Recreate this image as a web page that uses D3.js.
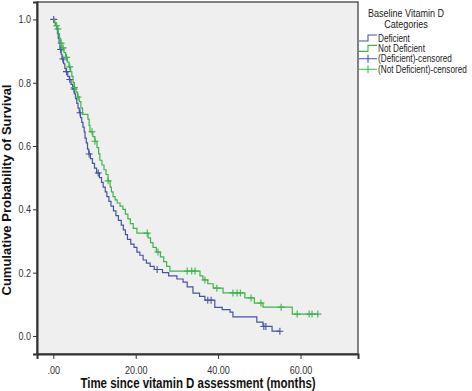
<!DOCTYPE html>
<html>
<head>
<meta charset="utf-8">
<script src="https://cdn.jsdelivr.net/npm/d3@7"></script>
<style>
  body { margin: 0; background: #fff; }
  svg text { font-family: "Liberation Sans", Arial, sans-serif; }
</style>
</head>
<body>
<svg id="chart" width="472" height="391"></svg>
<script>
// Kaplan-Meier steps: [time (months), survival after the event]
const deficientSteps = [
  [0.3, 0.99], [0.5, 0.98], [0.8, 0.97], [1.0, 0.955], [1.2, 0.94], [1.4, 0.925],
  [1.6, 0.905], [1.9, 0.89], [2.1, 0.875], [2.5, 0.86], [2.8, 0.845], [3.1, 0.835],
  [3.5, 0.82], [3.9, 0.81], [4.3, 0.795], [4.7, 0.78], [5.1, 0.765], [5.4, 0.75],
  [5.7, 0.735], [6.0, 0.72], [6.3, 0.705], [6.6, 0.69], [6.9, 0.675], [7.2, 0.66],
  [7.5, 0.645], [7.7, 0.625], [8.0, 0.61], [8.3, 0.59], [8.6, 0.575], [9.0, 0.56],
  [9.5, 0.545], [10.0, 0.53], [10.5, 0.515], [11.2, 0.50], [11.7, 0.485], [12.1, 0.47],
  [12.6, 0.455], [13.0, 0.44], [13.5, 0.425], [14.0, 0.41], [14.6, 0.395], [15.2, 0.38],
  [15.8, 0.365], [16.5, 0.35], [17.0, 0.335], [17.5, 0.32], [18.0, 0.305], [18.8, 0.29],
  [19.6, 0.28], [20.3, 0.265], [21.0, 0.255], [21.8, 0.24], [22.6, 0.23], [23.5, 0.22],
  [24.5, 0.21], [26.5, 0.20], [28.0, 0.19], [30.0, 0.18], [31.5, 0.17], [32.5, 0.155],
  [33.9, 0.135], [35.5, 0.125], [36.8, 0.113], [39.2, 0.09], [41.0, 0.083], [42.9, 0.075],
  [43.6, 0.06], [49.4, 0.044], [50.9, 0.03], [53.1, 0.015]
];
const deficientCensored = [0.1, 1.8, 2.3, 3.2, 4.0, 5.0, 6.5, 8.7, 10.9, 25.2, 37.5, 38.3, 51.1, 51.6, 55.0];

const notDeficientSteps = [
  [0.3, 0.99], [0.6, 0.98], [0.9, 0.97], [1.2, 0.955], [1.5, 0.94], [1.8, 0.925],
  [2.1, 0.91], [2.6, 0.895], [3.0, 0.88], [3.4, 0.865], [3.8, 0.85], [4.2, 0.835],
  [4.5, 0.82], [4.8, 0.80], [5.1, 0.785], [5.5, 0.77], [5.9, 0.755], [6.3, 0.74],
  [6.7, 0.72], [7.1, 0.70], [8.4, 0.685], [8.7, 0.665], [8.9, 0.645], [9.6, 0.63],
  [10.1, 0.615], [10.6, 0.595], [11.0, 0.575], [11.3, 0.555], [11.8, 0.54], [12.3, 0.525],
  [12.8, 0.51], [13.3, 0.49], [13.8, 0.47], [14.1, 0.455], [14.5, 0.44], [15.0, 0.43],
  [15.5, 0.42], [16.2, 0.41], [16.9, 0.40], [17.5, 0.385], [18.1, 0.37], [18.7, 0.355],
  [19.4, 0.34], [20.3, 0.325], [23.0, 0.31], [23.6, 0.295], [24.2, 0.28], [25.0, 0.265],
  [26.0, 0.25], [26.8, 0.235], [27.5, 0.22], [28.3, 0.205], [35.6, 0.19], [36.3, 0.177],
  [37.5, 0.165], [38.8, 0.151], [41.2, 0.136], [46.5, 0.12], [48.8, 0.104], [50.9, 0.091],
  [58.0, 0.069]
];
const notDeficientCensored = [0.8, 1.1, 1.9, 2.4, 3.2, 4.0, 5.1, 6.0, 9.4, 10.1, 13.3, 22.8, 25.4,
  32.5, 33.6, 34.4, 36.8, 39.7, 43.6, 44.6, 45.4, 48.0, 50.4, 55.3, 59.2, 62.1, 62.8, 64.2];

const xTicks = [0, 20, 40, 60];
const yTicks = [0, 0.2, 0.4, 0.6, 0.8, 1.0];

const legendTitle = ['Baseline Vitamin D', 'Categories'];
const series = [
  { name: 'Deficient', steps: deficientSteps, censored: deficientCensored, color: '#4654a2' },
  { name: 'Not Deficient', steps: notDeficientSteps, censored: notDeficientCensored, color: '#3db54a' }
];

const svg = d3.select('#chart');
const plot = { left: 37, top: 2, right: 358, bottom: 354 };

const xScale = d3.scaleLinear().domain([-3.96, 73.96]).range([plot.left, plot.right]);
const yScale = d3.scaleLinear().domain([-0.057, 1.055]).range([plot.bottom, plot.top]);

// the source image is squeezed sideways, so horizontal text is narrowed
const narrow = sel => sel.each(function () {
  const w = this.getComputedTextLength();
  d3.select(this).attr('textLength', w * 0.82).attr('lengthAdjust', 'spacingAndGlyphs');
});

// plot background
svg.append('rect')
  .attr('x', plot.left).attr('y', plot.top)
  .attr('width', plot.right - plot.left).attr('height', plot.bottom - plot.top)
  .attr('fill', '#efefef')
  .attr('stroke', '#5a5a5a')
  .attr('stroke-width', 1.5);

// axes
const xAxis = d3.axisBottom(xScale).tickValues(xTicks).tickSize(5).tickFormat(d => d === 0 ? '.00' : d.toFixed(2));
const yAxis = d3.axisLeft(yScale).tickValues(yTicks).tickSize(4).tickFormat(d3.format('.1f'));

const gx = svg.append('g')
  .attr('transform', `translate(0,${plot.bottom})`)
  .call(xAxis);
gx.select('.domain').attr('stroke', '#333').attr('stroke-width', 2);
gx.selectAll('.tick line').attr('stroke', '#333');
gx.selectAll('.tick text').attr('fill', '#333').attr('font-size', 11).attr('font-family', null).attr('dy', '1.05em');

const gy = svg.append('g')
  .attr('transform', `translate(${plot.left},0)`)
  .call(yAxis);
gy.select('.domain').attr('stroke', '#333').attr('stroke-width', 2);
gy.selectAll('.tick line').attr('stroke', '#333');
gy.selectAll('.tick text').attr('fill', '#333').attr('font-size', 11).attr('font-family', null).attr('x', -6);
svg.selectAll('.tick text').call(narrow);

// axis titles
svg.append('text')
  .attr('x', 198).attr('y', 388)
  .attr('text-anchor', 'middle')
  .attr('font-size', 14).attr('font-weight', 'bold')
  .attr('fill', '#111')
  .text('Time since vitamin D assessment (months)')
  .call(narrow);

svg.append('text')
  .attr('transform', 'translate(11,190) rotate(-90)')
  .attr('text-anchor', 'middle')
  .attr('font-size', 13).attr('font-weight', 'bold')
  .attr('fill', '#111')
  .text('Cumulative Probability of Survival');

// survival at time t
const survivalAt = (steps, t) => {
  let s = 1;
  for (const [time, val] of steps) { if (time <= t) s = val; }
  return s;
};

const stepLine = d3.line()
  .x(d => xScale(d[0]))
  .y(d => yScale(d[1]))
  .curve(d3.curveStepAfter);

series.forEach(sr => {
  const lastCensor = d3.max(sr.censored);
  const pts = [[0, 1], ...sr.steps, [lastCensor, sr.steps[sr.steps.length - 1][1]]];
  svg.append('path')
    .datum(pts)
    .attr('fill', 'none')
    .attr('stroke', sr.color)
    .attr('stroke-width', 1.2)
    .attr('d', stepLine);

  svg.append('g').selectAll('path')
    .data(sr.censored)
    .join('path')
    .attr('transform', d => `translate(${xScale(d)},${yScale(survivalAt(sr.steps, d))})`)
    .attr('d', 'M-3.5,0H3.5M0,-3.5V3.5')
    .attr('stroke', sr.color)
    .attr('stroke-width', 1.1);
});

// legend
const legend = svg.append('g');
legend.selectAll('text.title')
  .data(legendTitle)
  .join('text')
  .attr('class', 'title')
  .attr('x', 406).attr('y', (d, i) => 17 + i * 11)
  .attr('text-anchor', 'middle')
  .attr('font-size', 11)
  .attr('fill', '#222')
  .text(d => d)
  .call(narrow);

const legendItems = [
  ...series.map(sr => ({ label: sr.name, color: sr.color, type: 'line' })),
  ...series.map(sr => ({ label: `(${sr.name})-censored`, color: sr.color, type: 'censor' }))
];

const li = legend.selectAll('g.item')
  .data(legendItems)
  .join('g')
  .attr('class', 'item')
  .attr('transform', (d, i) => `translate(359,${38 + i * 10.4})`);

li.append('path')
  .attr('d', d => d.type === 'line' ? 'M0,3H9V-3H18' : 'M0,0H18M9,-4V4')
  .attr('fill', 'none')
  .attr('stroke', d => d.color)
  .attr('stroke-width', 1.1);

li.append('text')
  .attr('x', 19).attr('y', 3.6)
  .attr('font-size', 10)
  .attr('fill', '#222')
  .text(d => d.label)
  .call(narrow);
</script>
</body>
</html>
